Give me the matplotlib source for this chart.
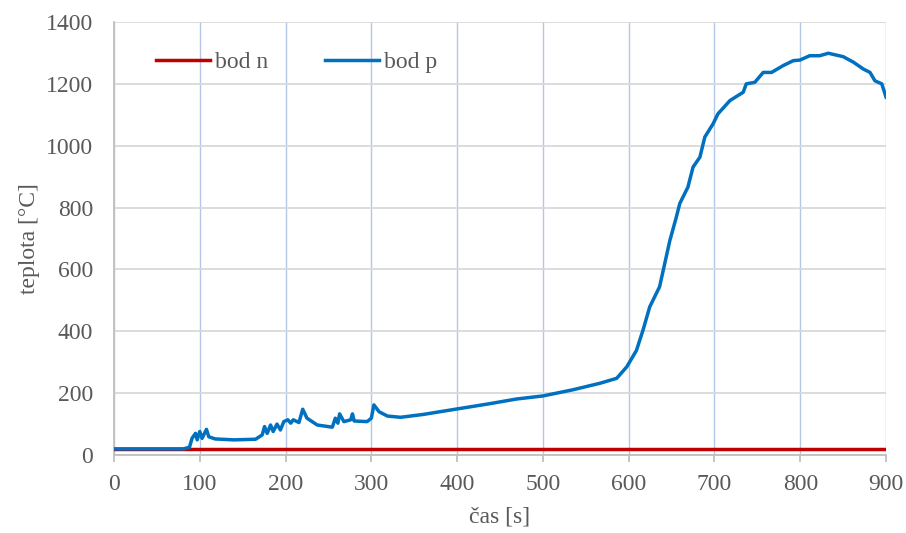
import matplotlib.pyplot as plt

plt.rcParams['font.family'] = ['Liberation Serif', 'DejaVu Serif']

# bod n - almost constant
cas_n = [0, 100, 200, 300, 400, 500, 600, 700, 800, 900]
teplota_n = [20, 20, 20, 20, 20, 20, 20, 20, 20, 20]

# bod p
cas_p = [0, 81, 88, 91, 95, 97, 100, 102.7, 107.8, 110.5, 118, 139.7, 165,
         172.8, 175.5, 178.6, 182.5, 185.6, 190, 194, 198, 202.7, 206, 209,
         215.6, 220, 225, 237, 254.5, 258, 261, 263, 268, 276, 278, 280, 295,
         300, 303, 309, 318.7, 334, 360, 400, 438, 469, 500, 535, 566.5, 586,
         597.7, 609, 616.7, 624.5, 636, 642, 648, 655.6, 659.5, 669, 675, 683,
         688.7, 698.4, 704, 718, 733.5, 737, 747, 756.8, 766.5, 780, 791.8,
         799.6, 811, 822.6, 832.7, 850, 862, 873.5, 881.3, 887, 895, 900]
teplota_p = [20, 20, 25, 54, 70, 49, 76, 54, 83, 59, 52, 49, 51,
             65, 92, 70, 97, 76, 100, 81, 108, 114, 103, 114,
             105, 148, 119, 97, 90, 119, 103, 133, 108, 114, 133, 110, 108,
             119, 162, 140, 126, 122, 131, 149, 166, 181, 191, 211, 232, 248,
             285, 338, 404, 479, 544, 619, 694, 770, 813, 866, 931, 963,
             1028, 1071, 1103, 1146, 1173, 1200, 1205, 1237, 1237, 1259, 1275,
             1277, 1291, 1291, 1299, 1288, 1270, 1248, 1237, 1210, 1200, 1157]

fig = plt.figure(figsize=(9.06, 5.33), dpi=100)
ax = fig.add_axes([0.1258, 0.1463, 0.8522, 0.8124])

ax.plot(cas_n, teplota_n, color='#c00000', lw=2.5, label='bod n', zorder=3)
ax.plot(cas_p, teplota_p, color='#0070c0', lw=2.5, label='bod p', zorder=4)

ax.set_xlim(0, 900)
ax.set_ylim(0, 1400)
ax.set_xticks(range(0, 901, 100))
ax.set_yticks(range(0, 1401, 200))

ax.yaxis.grid(True, color='#d9d9d9', lw=1.3)
ax.xaxis.grid(True, color='#b4c7e7', lw=1.0)
ax.set_axisbelow(True)

for s in ['top', 'right']:
    ax.spines[s].set_visible(False)
for s in ['left', 'bottom']:
    ax.spines[s].set_color('#bfbfbf')
    ax.spines[s].set_linewidth(1.3)

ax.tick_params(axis='x', colors='#595959', labelsize=17, length=5, width=1.3,
               color='#bfbfbf', pad=9)
ax.tick_params(axis='y', colors='#595959', labelsize=17, length=0, pad=15)

ax.set_xlabel('čas [s]', fontsize=17, color='#595959', labelpad=8)
ax.set_ylabel('teplota [°C]', fontsize=17, color='#595959', labelpad=4)

leg = ax.legend(loc='upper left', bbox_to_anchor=(0.027, 0.98), ncol=2, frameon=False,
                fontsize=17, handlelength=2.3, handletextpad=0.2, columnspacing=2.4,
                labelcolor='#595959')

plt.savefig('out.png', dpi=100)
